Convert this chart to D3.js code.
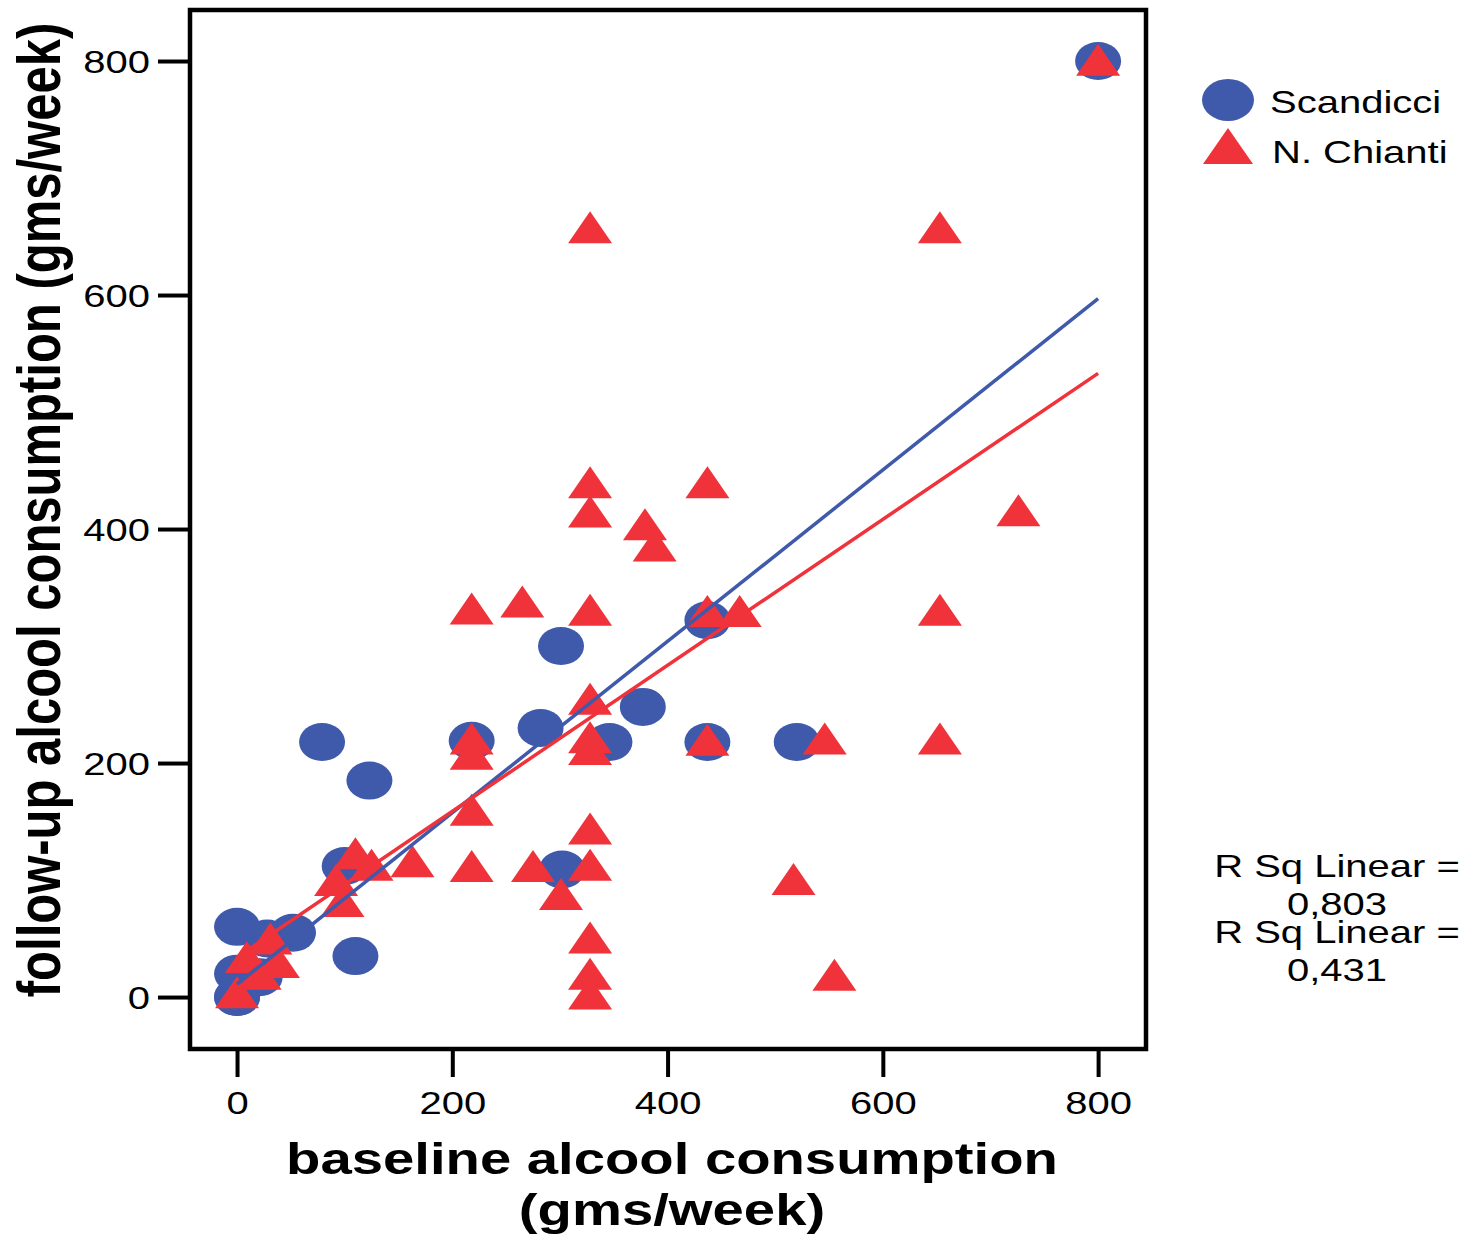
<!DOCTYPE html>
<html>
<head>
<meta charset="utf-8">
<script src="https://cdnjs.cloudflare.com/ajax/libs/d3/7.8.5/d3.min.js"></script>
<style>
  body { margin: 0; background: #fff; }
  text { font-family: "Liberation Sans", Arial, sans-serif; }
</style>
</head>
<body>
<div id="chart"></div>
<script>
// datos (gms/week)
var scandicci = [
  [0, 0], [0, 0], [0, 20], [0, 60], [21, 17], [28, 50], [52, 55], [100, 112],
  [110, 35], [79, 218], [123, 185], [218, 219], [282, 230], [301, 300], [302, 109],
  [346, 218], [377, 248], [437, 322], [437, 218], [520, 218], [800, 800]
];
var chianti = [
  [0, 4], [9, 34], [21, 20], [31, 50], [38, 30], [92, 100], [98, 82], [110, 123],
  [125, 113], [163, 116], [218, 112], [218, 160], [218, 208], [218, 221], [218, 332],
  [265, 338], [275, 112], [301, 88], [328, 3], [328, 20], [328, 51], [328, 113],
  [328, 144], [328, 212], [328, 222], [328, 255], [328, 331], [328, 415], [328, 440],
  [328, 658], [379, 404], [388, 386], [437, 220], [437, 330], [437, 440], [467, 330],
  [517, 101], [546, 221], [555, 19], [653, 221], [653, 331], [653, 658], [726, 416],
  [800, 801]
];
// rectas de regresion (inicio y fin)
var fitScandicci = [[0, 11], [800, 597]];
var fitChianti = [[0, 34], [800, 533]];
var xTicks = [0, 200, 400, 600, 800];
var yTicks = [0, 200, 400, 600, 800];
var seriesNames = ["Scandicci", "N. Chianti"];
var rsqLabels = ["R Sq Linear =", "0,803", "R Sq Linear =", "0,431"];

var blue = "#3f59ab", red = "#f0333b";
var sx = 1.25; // estiramiento horizontal del texto

var svg = d3.select("#chart")
  .append("svg")
    .attr("width", 1470)
    .attr("height", 1239);

var pLeft = 190, pRight = 1146, pTop = 10, pBottom = 1049;

var x = d3.scaleLinear().domain([-43.7, 844.5]).range([pLeft, pRight]);
var y = d3.scaleLinear().domain([-44.4, 843.6]).range([pBottom, pTop]);

//ejes
var gx = svg.append("g")
  .attr("transform", "translate(0," + pBottom + ")")
  .call(d3.axisBottom(x).tickValues(xTicks).tickSize(28).tickPadding(5).tickFormat(d3.format("d")));
var gy = svg.append("g")
  .attr("transform", "translate(" + pLeft + ",0)")
  .call(d3.axisLeft(y).tickValues(yTicks).tickSize(32).tickPadding(8).tickFormat(d3.format("d")));

[gx, gy].forEach(function(g) {
  g.select(".domain").remove();
  g.selectAll(".tick line").attr("stroke", "#000").attr("stroke-width", 4);
  g.selectAll(".tick text")
    .attr("fill", "#000")
    .style("font-size", "32px")
    .style("font-family", "'Liberation Sans', Arial, sans-serif");
});
gx.selectAll(".tick text").attr("transform", "scale(" + sx + ",1)").attr("dy", "1.0em");
gy.selectAll(".tick text").attr("x", -40 / sx).attr("dy", "0.36em").attr("transform", "scale(" + sx + ",1)");

//puntos
svg.append("g").selectAll("ellipse")
  .data(scandicci)
  .enter()
  .append("ellipse")
    .attr("cx", function(d) { return x(d[0]); })
    .attr("cy", function(d) { return y(d[1]); })
    .attr("rx", 23)
    .attr("ry", 19)
    .style("fill", blue);

var tri = "M0,-16L22,16L-22,16Z";
svg.append("g").selectAll("path")
  .data(chianti)
  .enter()
  .append("path")
    .attr("d", tri)
    .attr("transform", function(d) { return "translate(" + x(d[0]) + "," + y(d[1]) + ")"; })
    .style("fill", red);

//rectas
var line = d3.line().x(function(d) { return x(d[0]); }).y(function(d) { return y(d[1]); });
svg.append("path").datum(fitScandicci).attr("d", line)
  .attr("stroke", blue).attr("stroke-width", 3.5).attr("fill", "none");
svg.append("path").datum(fitChianti).attr("d", line)
  .attr("stroke", red).attr("stroke-width", 3.5).attr("fill", "none");

//marco
svg.append("rect")
  .attr("x", pLeft).attr("y", pTop)
  .attr("width", pRight - pLeft).attr("height", pBottom - pTop)
  .attr("fill", "none").attr("stroke", "#000").attr("stroke-width", 4.5);

//titulos de los ejes
svg.append("text")
  .attr("transform", "translate(672,1174) scale(" + sx + ",1)")
  .style("text-anchor", "middle").style("font-size", "45px").style("font-weight", "bold")
  .text("baseline alcool consumption");
svg.append("text")
  .attr("transform", "translate(672,1225) scale(" + sx + ",1)")
  .style("text-anchor", "middle").style("font-size", "45px").style("font-weight", "bold")
  .text("(gms/week)");
svg.append("text")
  .attr("transform", "translate(60,510) scale(" + sx + ",1) rotate(-90)")
  .style("text-anchor", "middle").style("font-size", "49px").style("font-weight", "bold")
  .text("follow-up alcool consumption (gms/week)");

//leyenda
svg.append("ellipse").attr("cx", 1228).attr("cy", 100).attr("rx", 26).attr("ry", 21).style("fill", blue);
svg.append("path").attr("d", "M0,-18L25,18L-25,18Z").attr("transform", "translate(1228,146)").style("fill", red);
svg.append("text").attr("transform", "translate(1270,113) scale(" + sx + ",1)")
  .style("font-size", "32px").text(seriesNames[0]);
svg.append("text").attr("transform", "translate(1272,163) scale(" + sx + ",1)")
  .style("font-size", "32px").text(seriesNames[1]);

//R cuadrado (se solapan como en el original)
var rsqY = [877, 915, 943, 981];
rsqLabels.forEach(function(t, i) {
  svg.append("text")
    .attr("transform", "translate(1337," + rsqY[i] + ") scale(" + sx + ",1)")
    .style("text-anchor", "middle").style("font-size", "32px")
    .text(t);
});
</script>
</body>
</html>
